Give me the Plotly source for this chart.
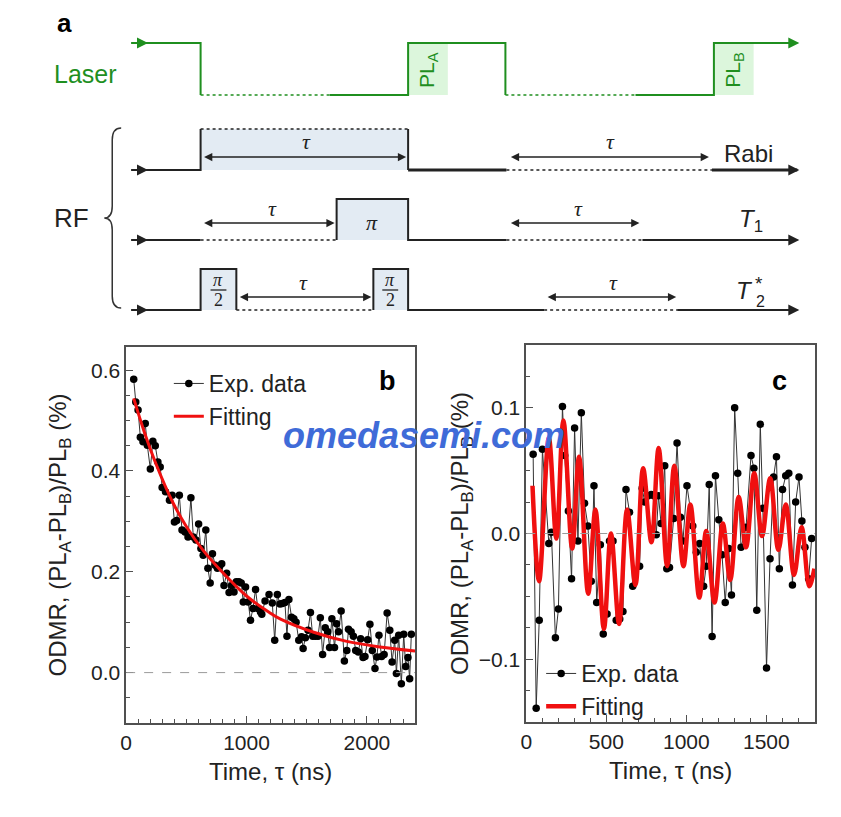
import plotly.graph_objects as go

# ---------------- data: panel b (T1 decay) ----------------
b_tau = [63, 80, 99, 118, 140, 159, 176, 201, 222, 242, 264, 283, 299, 327, 360, 382, 401, 420,
         442, 464, 489, 514, 538, 558, 580, 602, 621, 640, 662, 679, 698, 717, 740, 758, 777, 794,
         813, 835, 855, 876, 896, 915, 937, 956, 973, 992, 1014, 1033, 1053, 1075, 1094, 1116,
         1127, 1154, 1187, 1214, 1234, 1256, 1278, 1297, 1319, 1336, 1352, 1374, 1393, 1412, 1434,
         1457, 1470, 1489, 1511, 1531, 1550, 1572, 1594, 1613, 1632, 1654, 1674, 1690, 1709, 1731,
         1748, 1764, 1786, 1813, 1833, 1847, 1869, 1888, 1907, 1929, 1948, 1968, 1984, 2006, 2025,
         2045, 2067, 2083, 2100, 2122, 2143, 2168, 2190, 2209, 2231, 2245, 2264, 2286, 2306, 2322,
         2341, 2355, 2369]
b_val = [0.582, 0.537, 0.521, 0.467, 0.458, 0.494, 0.451, 0.404, 0.459, 0.450, 0.418, 0.408, 0.367,
         0.359, 0.342, 0.352, 0.299, 0.302, 0.352, 0.283, 0.279, 0.269, 0.347, 0.269, 0.263, 0.295,
         0.246, 0.233, 0.283, 0.207, 0.178, 0.236, 0.213, 0.207, 0.211, 0.216, 0.173, 0.197, 0.159,
         0.173, 0.160, 0.180, 0.180, 0.178, 0.140, 0.170, 0.140, 0.104, 0.127, 0.165, 0.127, 0.120,
         0.116, 0.142, 0.155, 0.138, 0.064, 0.155, 0.136, 0.137, 0.139, 0.072, 0.145, 0.110, 0.107,
         0.100, 0.064, 0.071, 0.048, 0.069, 0.084, 0.119, 0.072, 0.072, 0.072, 0.109, 0.036, 0.089,
         0.081, 0.050, 0.107, 0.050, 0.097, 0.081, 0.122, 0.023, 0.044, 0.086, 0.081, 0.072, 0.044,
         0.041, 0.067, 0.030, 0.032, 0.065, 0.096, 0.044, 0.008, 0.031, 0.074, 0.032, 0.036, 0.118,
         0.084, 0.021, 0.064, -0.002, 0.074, -0.022, 0.076, 0.012, 0.030, -0.012, 0.076]
b_fit_tau = [63, 150, 250, 387, 500, 635, 800, 1000, 1184, 1283, 1558, 1833, 2108, 2400]
b_fit_val = [0.544, 0.478, 0.413, 0.338, 0.290, 0.244, 0.199, 0.152, 0.120, 0.106, 0.080, 0.062,
             0.051, 0.043]

# ---------------- data: panel c (T2* Ramsey) ----------------
c_tau = [43, 62, 81, 101, 141, 157, 182, 201, 226, 240, 263, 283, 302, 323, 344, 364, 385, 406,
         423, 440, 463, 481, 505, 520, 542, 562, 584, 604, 623, 645, 665, 708, 724, 740, 762, 781,
         797, 812, 826, 842, 865, 878, 895, 921, 942, 963, 979, 1004, 1040, 1062, 1083, 1108, 1124,
         1143, 1161, 1182, 1203, 1223, 1243, 1265, 1282, 1302, 1321, 1342, 1373, 1404, 1422, 1440,
         1462, 1478, 1501, 1523, 1545, 1563, 1581, 1601, 1621, 1640, 1663, 1683, 1704, 1722, 1741,
         1764, 1783]
c_val = [0.063, -0.139, -0.069, 0.067, -0.008, 0.001, -0.083, -0.060, 0.101, 0.062, 0.018, -0.036,
         0.084, -0.006, 0.096, 0.024, 0.006, -0.038, 0.038, -0.055, -0.009, -0.080, -0.064, -0.006,
         -0.006, -0.069, -0.068, -0.062, 0.035, 0.017, -0.042, -0.026, 0.036, 0.025, 0.030, 0.031,
         0.030, -0.001, 0.030, 0.008, 0.054, -0.028, -0.027, 0.012, 0.072, 0.013, -0.006, 0.038,
         0.006, -0.015, -0.008, -0.042, -0.026, 0.039, -0.082, 0.046, 0.011, -0.017, -0.055, -0.012,
         -0.049, 0.100, 0.048, -0.011, 0.005, 0.062, 0.052, -0.061, 0.087, 0.020, -0.107, -0.020,
         0.045, 0.061, -0.028, 0.035, 0.046, 0.048, -0.041, 0.025, 0.045, 0.010, -0.011, -0.036,
         -0.004]
c_fit_tau = [39, 80, 141, 188, 232, 287, 330, 387, 432, 485, 529, 580, 630, 682, 730, 782, 827, 880,
             925, 982, 1025, 1081, 1124, 1176, 1228, 1274, 1327, 1373, 1424, 1473, 1524, 1575, 1621,
             1673, 1720, 1768, 1800]
c_fit_val = [0.038, -0.038, 0.076, -0.004, 0.090, -0.012, 0.061, -0.048, 0.019, -0.076, 0.000,
             -0.072, 0.019, -0.041, 0.052, -0.007, 0.068, -0.026, 0.054, -0.026, 0.023, -0.051,
             0.002, -0.055, 0.008, -0.037, 0.029, -0.011, 0.048, -0.002, 0.044, -0.013, 0.023,
             -0.033, 0.005, -0.042, -0.028]

FONT = "Liberation Sans, Arial, sans-serif"
SERIF = "Liberation Serif, DejaVu Serif, serif"
W, H = 841, 817
GREEN = "#1f8f1f"
DARK = "#222222"
BOXB = "#e3ebf3"
BOXG = "#dcf6dc"

fig = go.Figure()

# panel b traces
fig.add_trace(go.Scatter(x=b_tau, y=b_val, mode="lines+markers", name="Exp. data",
                         line=dict(color="#333333", width=1),
                         marker=dict(color="black", size=7.5),
                         xaxis="x", yaxis="y", legend="legend"))
fig.add_trace(go.Scatter(x=b_fit_tau, y=b_fit_val, mode="lines", name="Fitting",
                         line=dict(color="#f01010", width=3, shape="spline", smoothing=1.0),
                         xaxis="x", yaxis="y", legend="legend"))
# panel c traces
fig.add_trace(go.Scatter(x=c_tau, y=c_val, mode="lines+markers", name="Exp. data",
                         line=dict(color="#333333", width=1),
                         marker=dict(color="black", size=7.5),
                         xaxis="x2", yaxis="y2", legend="legend2"))
fig.add_trace(go.Scatter(x=c_fit_tau, y=c_fit_val, mode="lines", name="Fitting",
                         line=dict(color="#f01010", width=4.5, shape="spline", smoothing=1.0),
                         xaxis="x2", yaxis="y2", legend="legend2"))


def px2x(px):
    return px / W


def px2y(py):
    return 1 - py / H


axis_common = dict(showline=True, mirror=True, linecolor="#505050", linewidth=1.5,
                   ticks="inside", ticklen=7, tickwidth=1.2, tickcolor="#505050",
                   showgrid=False, zeroline=False,
                   tickfont=dict(family=FONT, size=21, color=DARK),
                   title_font=dict(family=FONT, size=24, color=DARK))

ytitle = "ODMR, (PL<sub>A</sub>-PL<sub>B</sub>)/PL<sub>B</sub> (%)"
xtitle = "Time, \u03c4 (ns)"

layout = dict(
    width=W, height=H, margin=dict(l=0, r=0, t=0, b=0),
    paper_bgcolor="white", plot_bgcolor="rgba(0,0,0,0)",
    font=dict(family=FONT, color=DARK),
    xaxis=dict(domain=[px2x(121), px2x(412)], range=[0, 2400], anchor="y",
               dtick=1000, tick0=0, minor=dict(dtick=100, ticks="inside", ticklen=4,
                                               tickcolor="#505050"),
               title=dict(text=xtitle, standoff=10), **axis_common),
    yaxis=dict(domain=[px2y(723), px2y(347)], range=[-0.1, 0.646], anchor="x",
               dtick=0.2, tick0=0, tickformat=".1f",
               minor=dict(dtick=0.05, ticks="inside", ticklen=4, tickcolor="#505050"),
               title=dict(text=ytitle, standoff=18), **axis_common),
    xaxis2=dict(domain=[px2x(524), px2x(815)], range=[0, 1805], anchor="y2",
                dtick=500, tick0=0, minor=dict(dtick=100, ticks="inside", ticklen=4,
                                               tickcolor="#505050"),
                title=dict(text=xtitle, standoff=10), **axis_common),
    yaxis2=dict(domain=[px2y(722), px2y(345)], range=[-0.15, 0.15], anchor="x2",
                dtick=0.1, tick0=0, tickformat=".1f",
                minor=dict(dtick=0.025, ticks="inside", ticklen=4, tickcolor="#505050"),
                title=dict(text=ytitle, standoff=3), **axis_common),
    xaxis3=dict(domain=[0, 1], range=[0, W], anchor="y3", visible=False, fixedrange=True),
    yaxis3=dict(domain=[0, 1], range=[H, 0], anchor="x3", visible=False, fixedrange=True),
    legend=dict(x=px2x(164), y=px2y(362), xanchor="left", yanchor="top",
                bgcolor="rgba(0,0,0,0)", font=dict(family=FONT, size=23, color=DARK),
                tracegroupgap=0, itemwidth=30),
    legend2=dict(x=px2x(539), y=px2y(652), xanchor="left", yanchor="top",
                 bgcolor="rgba(0,0,0,0)", font=dict(family=FONT, size=23, color=DARK),
                 tracegroupgap=0, itemwidth=30),
    showlegend=True,
)
fig.update_layout(**layout)

shapes = []


def S(**kw):
    base = dict(xref="x3", yref="y3")
    base.update(kw)
    shapes.append(base)


def rect(x0, y0, x1, y1, fill):
    S(type="rect", x0=x0, y0=y0, x1=x1, y1=y1, fillcolor=fill, line=dict(width=0), layer="below")


def path(d, color, width=2, dash="solid"):
    S(type="path", path=d, line=dict(color=color, width=width, dash=dash))


def hline(x0, x1, y, color, width=1.6, dash="dot"):
    S(type="line", x0=x0, x1=x1, y0=y, y1=y, line=dict(color=color, width=width, dash=dash))


# zero dashed lines in data panels
shapes.append(dict(type="line", xref="x", yref="y", x0=0, x1=2400, y0=0, y1=0,
                   line=dict(color="#9a9a9a", width=1, dash="dash")))
shapes.append(dict(type="line", xref="x2", yref="y2", x0=0, x1=1805, y0=0, y1=0,
                   line=dict(color="#9a9a9a", width=1, dash="dash")))

# ---- Laser row ----
rect(405, 43, 445, 95, BOXG)
rect(713, 43, 753, 95, BOXG)
path("M126,43 L196,43 L196,95", GREEN)
hline(196, 326, 95, GREEN, 1.6)
path("M326,95 L405,95 L405,43 L503,43 L503,95", GREEN)
hline(503, 634, 95, GREEN, 1.6)
path("M634,95 L713,95 L713,43 L797,43", GREEN)

# ---- Rabi row ----
rect(196, 129, 405, 170, BOXB)
path("M126,170 L196,170 L196,129", DARK)
hline(196, 405, 129, DARK, 1.6)
path("M405,129 L405,170", DARK)
path("M405,170 L504,170", DARK, 3)
hline(504, 711, 170, DARK, 1.6)
path("M711,170 L797,170", DARK, 3)

# ---- T1 row ----
rect(333, 199, 405, 240, BOXB)
path("M126,240 L196,240", DARK)
hline(196, 333, 240, DARK, 1.6)
path("M333,240 L333,199 L405,199 L405,240 L504,240", DARK)
hline(504, 641, 240, DARK, 1.6)
path("M641,240 L797,240", DARK)

# ---- T2* row ----
rect(196, 269, 232, 310, BOXB)
rect(370, 269, 405, 310, BOXB)
path("M126,310 L196,310 L196,269 L232,269 L232,310", DARK)
hline(232, 370, 310, DARK, 1.6)
path("M370,310 L370,269 L405,269 L405,310 L542,310", DARK)
hline(542, 676, 310, DARK, 1.6)
path("M676,310 L797,310", DARK)

# fraction bars
path("M206,290 L222,290", DARK, 1.3)
path("M379,290 L395,290", DARK, 1.3)

# brace
path("M116,128 Q107,128 107,140 L107,206 Q107,218 99,218 Q107,218 107,230 L107,296 "
     "Q107,308 116,308", "#333333", 1.5)

fig.update_layout(shapes=shapes)

ann = []


def A(text, x, y, size=20, color=DARK, family=FONT, **kw):
    d = dict(text=text, x=x, y=y, xref="x3", yref="y3", showarrow=False,
             font=dict(family=family, size=size, color=color), xanchor="center", yanchor="middle")
    d.update(kw)
    ann.append(d)


def arrow(x0, x1, y, color, both=False, width=1.5):
    ann.append(dict(text="", x=x1, y=y, ax=x0, ay=y, xref="x3", yref="y3", axref="x3",
                    ayref="y3", showarrow=True, arrowhead=2, arrowsize=1.1, arrowwidth=width,
                    arrowcolor=color, arrowside="end+start" if both else "end",
                    startarrowhead=2, startarrowsize=1.1))


# start/end arrows of the time lines
for yy, col in [(43, GREEN), (170, DARK), (240, DARK), (310, DARK)]:
    arrow(126, 143, yy, col, width=2)
    arrow(770, 799, yy, col, width=2)

# tau double arrows
for x0, x1, yy in [(198, 403, 157), (507, 708, 157), (198, 331, 223), (507, 638, 223),
                   (234, 368, 297), (544, 675, 297)]:
    arrow(x0, x1, yy, DARK, both=True, width=1.5)

TAU = "<i>\u03c4</i>"
for x, y in [(303, 141), (609, 141), (268, 208), (577, 208), (300, 282), (612, 282)]:
    A(TAU, x, y, size=22, family=SERIF)

A("<b>a</b>", 59, 23, size=26, color="black")
A("Laser", 80, 74, size=25, color=GREEN)
A("PL<sub>A</sub>", 425, 70, size=21, color=GREEN, textangle=-90)
A("PL<sub>B</sub>", 733, 70, size=21, color=GREEN, textangle=-90)
A("RF", 66, 218, size=26)
A("Rabi", 748, 153, size=24)
A("<i>T</i><sub>1</sub>", 750, 220, size=24)
A("<i>T</i>", 744, 290, size=24)
A("2", 760, 301, size=16)
A("*", 758, 283, size=19)
A("<i>\u03c0</i>", 369, 222, size=22, family=SERIF)
A("<i>\u03c0</i>", 214, 280, size=18, family=SERIF)
A("2", 214, 300, size=18, family=SERIF)
A("<i>\u03c0</i>", 387, 280, size=18, family=SERIF)
A("2", 387, 300, size=18, family=SERIF)

# panel letters
A("<b>b</b>", 384, 381, size=27, color="black")
A("<b>c</b>", 779, 381, size=27, color="black")

# watermark
A("<b><i>omedasemi.com</i></b>", 421, 435, size=36, color="#3f6bd8")

fig.update_layout(annotations=ann)

fig.write_html("out.html")
